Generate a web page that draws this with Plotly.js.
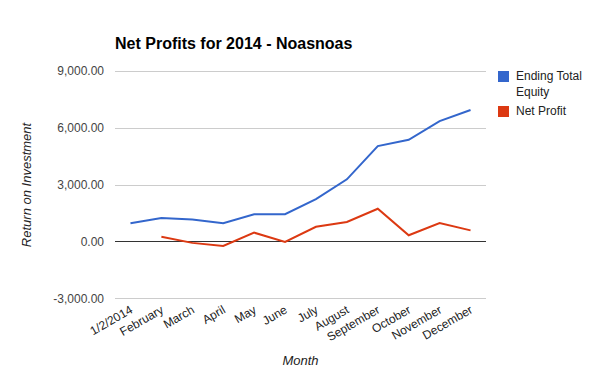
<!DOCTYPE html>
<html>
<head>
<meta charset="utf-8">
<script src="https://cdn.plot.ly/plotly-3.0.1.min.js"></script>
<style>html,body{margin:0;padding:0;background:#fff;}#chart{width:600px;height:371px;}</style>
</head>
<body>
<div id="chart"></div>
<script>
var months = ["1/2/2014","February","March","April","May","June","July","August","September","October","November","December"];
var endingTotalEquity = [990, 1260, 1180, 990, 1460, 1460, 2260, 3300, 5050, 5380, 6370, 6950];
var netProfit = [null, 270, -50, -210, 490, 0, 800, 1050, 1750, 350, 990, 610];
var yTicks = [-3000, 0, 3000, 6000, 9000];
var yTickLabels = ["-3,000.00", "0.00", "3,000.00", "6,000.00", "9,000.00"];

var blue = "#3366cc", red = "#dc3912";
var font = "Liberation Sans, Arial, sans-serif";

var traces = [
  {x: months, y: endingTotalEquity, type: "scatter", mode: "lines", name: "Ending Total Equity",
   line: {color: blue, width: 2}, connectgaps: false},
  {x: months, y: netProfit, type: "scatter", mode: "lines", name: "Net Profit",
   line: {color: red, width: 2}, connectgaps: false}
];

var layout = {
  width: 600, height: 371,
  margin: {l: 115, r: 114, t: 70, b: 71},
  paper_bgcolor: "#fff", plot_bgcolor: "#fff",
  font: {family: font, size: 12, color: "#222"},
  showlegend: false,
  title: {text: "<b>Net Profits for 2014 - Noasnoas</b>", x: 115/600, xanchor: "left",
          y: 1 - 43/371, yanchor: "middle", font: {family: font, size: 16, color: "#000"}},
  xaxis: {
    type: "category", range: [-0.5, 11.5], tickangle: -30,
    showgrid: false, zeroline: false, showline: false, ticks: "",
    tickfont: {family: font, size: 12, color: "#222"},
    title: {text: "<i>Month</i>", font: {family: font, size: 13, color: "#222"}, standoff: 12}
  },
  yaxis: {
    range: [-3060, 9060], tickvals: yTicks, ticktext: yTickLabels,
    showgrid: true, gridcolor: "#cccccc", gridwidth: 1,
    zeroline: true, zerolinecolor: "#333333", zerolinewidth: 1,
    showline: false, ticks: "", ticklabelstandoff: 10,
    tickfont: {family: font, size: 12, color: "#444"},
    title: {text: "<i>Return on Investment</i>", font: {family: font, size: 13, color: "#222"}, standoff: 18}
  },
  shapes: [
    {type: "rect", xref: "paper", yref: "paper", x0: (498-115)/371, x1: (509-115)/371,
     y0: (300-82)/230, y1: (300-71)/230, fillcolor: blue, line: {width: 0}},
    {type: "rect", xref: "paper", yref: "paper", x0: (498-115)/371, x1: (509-115)/371,
     y0: (300-117)/230, y1: (300-106)/230, fillcolor: red, line: {width: 0}}
  ],
  annotations: [
    {xref: "paper", yref: "paper", x: (514-115)/371, y: (300-76)/230, xanchor: "left", yanchor: "middle",
     text: "Ending Total", showarrow: false, font: {family: font, size: 12, color: "#222"}},
    {xref: "paper", yref: "paper", x: (514-115)/371, y: (300-92)/230, xanchor: "left", yanchor: "middle",
     text: "Equity", showarrow: false, font: {family: font, size: 12, color: "#222"}},
    {xref: "paper", yref: "paper", x: (514-115)/371, y: (300-111)/230, xanchor: "left", yanchor: "middle",
     text: "Net Profit", showarrow: false, font: {family: font, size: 12, color: "#222"}}
  ]
};

Plotly.newPlot("chart", traces, layout, {displayModeBar: false, staticPlot: true});
</script>
</body>
</html>
